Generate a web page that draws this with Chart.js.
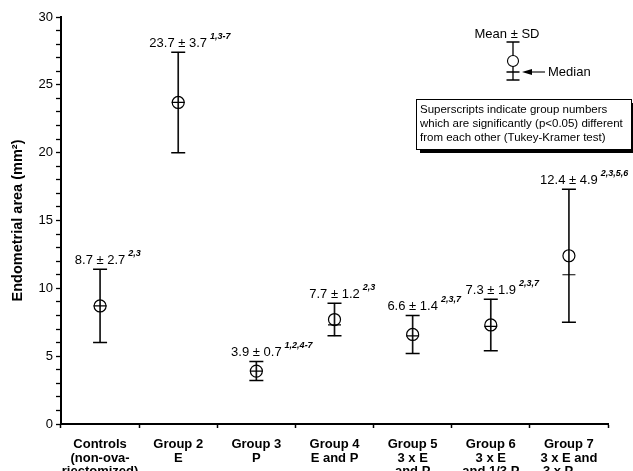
<!DOCTYPE html>
<html><head><meta charset="utf-8">
<script src="https://cdn.jsdelivr.net/npm/chart.js@4"></script>
<style>html,body{margin:0;padding:0;background:#fff}#wrap{width:633px;height:471px}</style>
</head><body><div id="wrap"><canvas id="c" width="633" height="471"></canvas></div>
<script>
const categories = [
  ["Controls", "(non-ova-", "riectomized)"],
  ["Group 2", "E"],
  ["Group 3", "P"],
  ["Group 4", "E and P"],
  ["Group 5", "3 x E", "and P"],
  ["Group 6", "3 x E", "and 1/3 P"],
  ["Group 7", "3 x E and", "3 x P"]
];
const subscriptText = ["", "", "", "", "", "", "sequ"];
const means = [8.7, 23.7, 3.9, 7.7, 6.6, 7.3, 12.4];
const sds = [2.7, 3.7, 0.7, 1.2, 1.4, 1.9, 4.9];
const medians = [8.7, 23.7, 3.9, 7.3, 6.5, 7.2, 11.0];
const superscripts = ["2,3", "1,3-7", "1,2,4-7", "2,3", "2,3,7", "2,3,7", "2,3,5,6"];
const yMin = 0, yMax = 30, yStep = 1, yLabelEvery = 5;
const yTitle = "Endometrial area (mm²)";
const keyTexts = ["Mean ± SD", "Median"];
const noteLines = ["Superscripts indicate group numbers",
  "which are significantly (p<0.05) different",
  "from each other (Tukey-Kramer test)"];

const FF = '"Liberation Sans", Arial, sans-serif';
const upper = means.map((m, i) => +(m + sds[i]).toFixed(2));
const lower = means.map((m, i) => +(m - sds[i]).toFixed(2));
const ranges = means.map((m, i) => [lower[i], upper[i]]);
const tickLabels = categories.map((c, i) => {
  if (!subscriptText[i]) return c;
  const c2 = c.slice();
  c2[c2.length - 1] = c2[c2.length - 1] + "      ";
  return c2;
});

const annot = {
  id: 'annot',
  afterDatasetsDraw(chart) {
    const ctx = chart.ctx, xs = chart.scales.x, ys = chart.scales.y;
    ctx.save();
    ctx.fillStyle = '#000';
    means.forEach((m, i) => {
      const x = xs.getPixelForValue(i);
      const yTop = ys.getPixelForValue(upper[i]);
      const label = m.toFixed(1) + ' ± ' + sds[i].toFixed(1);
      ctx.font = '13px ' + FF;
      ctx.textAlign = 'center';
      ctx.textBaseline = 'middle';
      const y = yTop - 9;
      ctx.fillText(label, x, y);
      const w = ctx.measureText(label).width;
      ctx.font = 'italic bold 9px ' + FF;
      ctx.textAlign = 'left';
      ctx.fillText(superscripts[i], x + w / 2 + 3, y - 7);
    });
    ctx.restore();
  },
  afterDraw(chart) {
    const ctx = chart.ctx, xs = chart.scales.x;
    ctx.save();
    // subscript on x tick label
    const items = xs.getLabelItems ? xs.getLabelItems() : xs._labelItems;
    if (items) {
      items.forEach((it, i) => {
        if (!subscriptText[i]) return;
        const lines = it.label;
        const f = it.font;
        ctx.font = f.string;
        const full = ctx.measureText(lines[lines.length - 1]).width;
        const base = ctx.measureText(categories[i][categories[i].length - 1]).width;
        const cx = it.options.translation[0];
        const ly = it.options.translation[1] + it.textOffset + (lines.length - 1) * f.lineHeight;
        ctx.textBaseline = it.options.textBaseline;
        ctx.textAlign = 'left';
        ctx.fillStyle = '#000';
        ctx.font = 'bold 9px ' + FF;
        ctx.fillText(subscriptText[i], cx - full / 2 + base + 0.5, ly + 4);
      });
    }
    // key
    const kx = 513;
    ctx.strokeStyle = '#000';
    ctx.fillStyle = '#000';
    ctx.lineWidth = 1.3;
    ctx.font = '13px ' + FF;
    ctx.textAlign = 'center';
    ctx.textBaseline = 'middle';
    ctx.fillText(keyTexts[0], 507, 34);
    ctx.beginPath();
    ctx.moveTo(kx, 42); ctx.lineTo(kx, 55.5);
    ctx.moveTo(kx, 66.5); ctx.lineTo(kx, 80);
    ctx.moveTo(kx - 6.5, 42); ctx.lineTo(kx + 6.5, 42);
    ctx.moveTo(kx - 6.5, 80); ctx.lineTo(kx + 6.5, 80);
    ctx.moveTo(kx - 6.5, 72); ctx.lineTo(kx + 6.5, 72);
    ctx.stroke();
    ctx.lineWidth = 1.1;
    ctx.beginPath();
    ctx.arc(kx, 61, 5.5, 0, Math.PI * 2);
    ctx.stroke();
    ctx.beginPath();
    ctx.moveTo(531, 72); ctx.lineTo(545, 72);
    ctx.stroke();
    ctx.beginPath();
    ctx.moveTo(522, 72); ctx.lineTo(532, 69); ctx.lineTo(532, 75); ctx.closePath();
    ctx.fill();
    ctx.textAlign = 'left';
    ctx.fillText(keyTexts[1], 548, 72);
    // note box with shadow
    ctx.fillStyle = '#000';
    ctx.fillRect(420, 103, 213, 50);
    ctx.fillStyle = '#fff';
    ctx.fillRect(416, 99, 215, 50);
    ctx.lineWidth = 1;
    ctx.strokeStyle = '#000';
    ctx.strokeRect(416.5, 99.5, 215, 50);
    ctx.fillStyle = '#000';
    ctx.font = '11.5px ' + FF;
    noteLines.forEach((t, i) => ctx.fillText(t, 420, 110 + i * 14));
    ctx.restore();
  }
};

new Chart(document.getElementById('c'), {
  type: 'bar',
  data: {
    labels: tickLabels,
    datasets: [
      { type: 'bar', data: ranges, backgroundColor: '#111', borderWidth: 0, barThickness: 1, order: 5 },
      { type: 'line', data: upper, showLine: false, pointStyle: 'line', pointRadius: 7, pointBorderWidth: 1.5, pointBorderColor: '#000', borderColor: '#000', order: 1 },
      { type: 'line', data: lower, showLine: false, pointStyle: 'line', pointRadius: 7, pointBorderWidth: 1.5, pointBorderColor: '#000', borderColor: '#000', order: 1 },
      { type: 'line', data: medians, showLine: false, pointStyle: 'line', pointRadius: 6.5, pointBorderWidth: 1.2, pointBorderColor: '#000', borderColor: '#000', order: 1 },
      { type: 'line', data: means, showLine: false, pointStyle: 'circle', pointRadius: 6, pointBorderWidth: 1.2, pointBorderColor: '#000', pointBackgroundColor: 'rgba(0,0,0,0)', borderColor: '#000', order: 1 }
    ]
  },
  options: {
    responsive: false,
    devicePixelRatio: 1,
    animation: false,
    layout: { padding: { top: 17, right: 25, left: 0, bottom: 0 } },
    plugins: { legend: { display: false }, tooltip: { enabled: false } },
    scales: {
      x: {
        type: 'category',
        offset: true,
        grid: { offset: true, drawOnChartArea: false, drawTicks: true, tickLength: 4, tickColor: '#000', tickWidth: 1.5 },
        border: { display: true, color: '#000', width: 2 },
        ticks: { color: '#000', font: { family: FF, size: 13, weight: 'bold', lineHeight: 1.04 }, padding: 10, maxRotation: 0, autoSkip: false },
        afterFit(s) { s.height = 47; }
      },
      y: {
        min: yMin, max: yMax,
        grid: { drawOnChartArea: false, drawTicks: true, tickLength: 5, tickColor: '#000', tickWidth: 1.3 },
        border: { display: true, color: '#000', width: 2 },
        ticks: { stepSize: yStep, autoSkip: false, color: '#000', padding: 3, font: { family: FF, size: 13 },
          callback: v => (v % yLabelEvery === 0 ? String(v) : '') },
        title: { display: true, text: yTitle, color: '#000', font: { family: FF, size: 14.5, weight: 'bold' }, padding: { top: 9, bottom: 0 } },
        afterFit(s) { s.width = 61; }
      }
    }
  },
  plugins: [annot]
});
</script>
</body></html>
